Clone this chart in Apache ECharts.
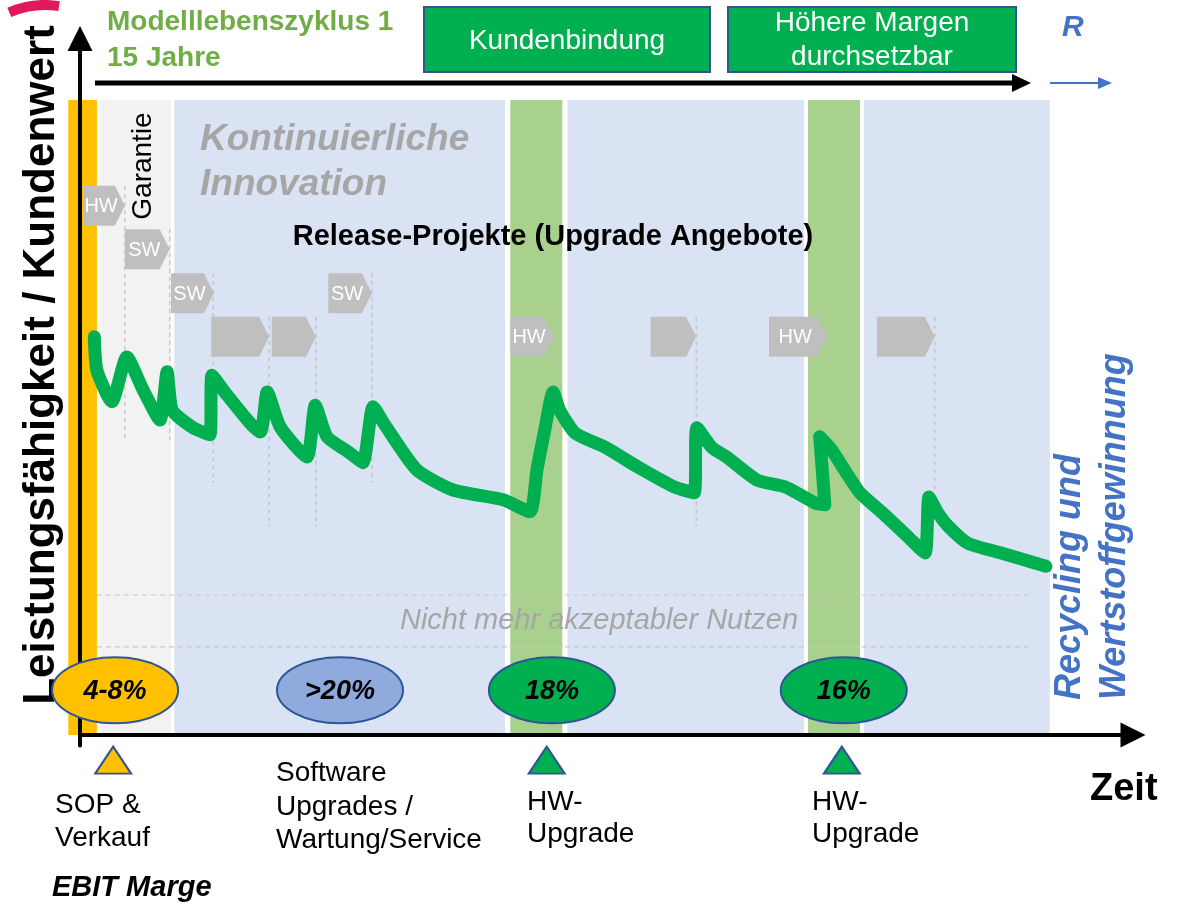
<!DOCTYPE html>
<html>
<head>
<meta charset="utf-8">
<script src="https://cdn.jsdelivr.net/npm/echarts@6/dist/echarts.min.js"></script>
<style>html,body{margin:0;padding:0;background:#fff}#main{width:1191px;height:905px}</style>
</head>
<body>
<div id="main"></div>
<script>
// x: Jahre seit SOP, y: Leistungsfähigkeit / Kundenwert
var bandTop = 90.7;
var orangeBands = [[-0.18, 0.26]];
var grayBands = [[0.31, 1.4]];
var blueBands = [[1.45, 6.54], [7.5, 11.14], [12.06, 14.92]];
var greenBands = [[6.62, 7.42], [11.2, 12.0]];

var curveYears = [0.22, 0.26, 0.49, 0.72, 0.97, 1.23, 1.34, 1.42, 1.74, 2.0, 2.03, 2.26, 2.77, 2.88, 3.08, 3.49, 3.62, 3.80, 4.15, 4.35, 4.51, 4.69, 5.18, 5.74, 6.51, 6.92, 7.03, 7.15, 7.28, 7.38, 7.62, 8.08, 8.58, 9.15, 9.45, 9.49, 9.72, 9.95, 10.42, 10.86, 11.32, 11.46, 11.38, 11.55, 11.78, 12.0, 12.35, 12.74, 13.0, 13.06, 13.2, 13.37, 13.66, 14.17, 14.86];
var curveValues = [56.9, 52.1, 47.6, 54.0, 49.3, 45.0, 51.9, 46.4, 43.9, 42.9, 51.4, 48.6, 43.3, 49.0, 44.0, 39.7, 47.1, 42.6, 40.3, 38.9, 46.9, 44.3, 37.9, 35.0, 33.6, 31.9, 37.9, 43.6, 49.0, 46.4, 43.1, 41.1, 38.3, 35.4, 34.6, 43.9, 41.1, 39.7, 36.4, 35.4, 33.1, 32.9, 42.6, 40.9, 37.6, 34.6, 31.7, 28.3, 26.0, 34.0, 31.7, 29.7, 27.4, 26.0, 24.1];

var releaseStart = [0.05, 0.69, 1.40, 2.02, 2.95, 3.82, 6.62, 8.78, 10.6, 12.26];
var releaseEnd = [0.69, 1.38, 2.06, 2.91, 3.63, 4.49, 7.29, 9.48, 11.5, 13.15];
var releaseLevel = [75.6, 69.4, 63.1, 56.9, 56.9, 63.1, 56.9, 56.9, 56.9, 56.9];
var releaseLabels = ['HW', 'SW', 'SW', '', '', 'SW', 'HW', '', 'HW', ''];

var guideYears = [0.69, 1.38, 2.05, 2.91, 3.63, 4.49, 7.29, 9.48, 11.5, 13.15];
var guideTop = [78.4, 72.3, 66.0, 59.7, 59.7, 66.0, 59.7, 59.7, 59.7, 59.7];
var guideBottom = [42.1, 42.1, 36.0, 29.7, 29.7, 36.0, 29.7, 29.7, 29.7, 35.0];

var limitLevels = [20.0, 12.6];
var limitRange = [0.26, 14.6];

var marginYears = [0.54, 4.0, 7.26, 11.75];
var marginLevel = 6.4;
var marginLabels = ['4-8%', '>20%', '18%', '16%'];
var marginColors = ['#FFC000', '#8FAADC', '#00B050', '#00B050'];

var milestoneYears = [0.51, 7.18, 11.72];
var milestoneLevel = -3.6;
var milestoneColors = ['#FFC000', '#00B050', '#00B050'];

var FONT = "'Liberation Sans', Arial, sans-serif";

function bandSeries(bands, color) {
  return {
    type: 'custom', z: 1, silent: true, clip: false,
    data: bands,
    renderItem: function (params, api) {
      var p0 = api.coord([api.value(0), bandTop]);
      var p1 = api.coord([api.value(1), 0]);
      return {
        type: 'rect',
        shape: {x: p0[0], y: p0[1], width: p1[0] - p0[0], height: p1[1] - p0[1]},
        style: {fill: color}
      };
    }
  };
}

var myChart = echarts.init(document.getElementById('main'));

var option = {
  animation: false,
  grid: {left: 80, top: 38.5, width: 1053, height: 707},
  xAxis: {
    type: 'value', min: 0, max: 16.2, z: 3,
    axisLine: {onZero: true, symbol: ['none', 'triangle'], symbolSize: [25, 25], lineStyle: {color: '#000', width: 4}},
    axisTick: {show: false}, axisLabel: {show: false}, splitLine: {show: false}
  },
  yAxis: {
    type: 'value', min: -1.5, max: 99.5, z: 3,
    axisLine: {show: true, onZero: true, symbol: ['none', 'triangle'], symbolSize: [25, 25], lineStyle: {color: '#000', width: 4}},
    axisTick: {show: false}, axisLabel: {show: false}, splitLine: {show: false}
  },
  series: [
    bandSeries(orangeBands, '#FFC000'),
    bandSeries(grayBands, '#F2F2F2'),
    bandSeries(blueBands, '#DAE3F3'),
    bandSeries(greenBands, '#A9D18E'),
    {
      type: 'custom', z: 2, silent: true,
      data: guideYears.map(function (x, i) { return [x, guideTop[i], guideBottom[i]]; }),
      renderItem: function (params, api) {
        var a = api.coord([api.value(0), api.value(1)]);
        var b = api.coord([api.value(0), api.value(2)]);
        return {type: 'line', shape: {x1: a[0], y1: a[1], x2: b[0], y2: b[1]},
          style: {stroke: '#BFBFBF', lineWidth: 1.2, lineDash: [4, 4]}};
      }
    },
    {
      type: 'custom', z: 2, silent: true,
      data: limitLevels.map(function (v) { return [limitRange[0], v, limitRange[1]]; }),
      renderItem: function (params, api) {
        var a = api.coord([api.value(0), api.value(1)]);
        var b = api.coord([api.value(2), api.value(1)]);
        return {type: 'line', shape: {x1: a[0], y1: a[1], x2: b[0], y2: b[1]},
          style: {stroke: '#C8C8C8', lineWidth: 1.2, lineDash: [5, 4]}};
      }
    },
    {
      type: 'custom', z: 4, silent: true,
      data: releaseStart.map(function (x, i) { return [x, releaseEnd[i], releaseLevel[i]]; }),
      renderItem: function (params, api) {
        var a = api.coord([api.value(0), api.value(2)]);
        var b = api.coord([api.value(1), api.value(2)]);
        var h = 20, n = 10;
        return {
          type: 'group',
          children: [
            {type: 'polygon', shape: {points: [[a[0], a[1] - h], [b[0] - n, a[1] - h], [b[0], a[1]], [b[0] - n, a[1] + h], [a[0], a[1] + h]]},
              style: {fill: '#BFBFBF'}},
            {type: 'text', x: (a[0] + b[0]) / 2 - 3, y: a[1] + 1,
              style: {text: releaseLabels[params.dataIndex], fill: '#fff', font: '20px ' + FONT, align: 'center', verticalAlign: 'middle'}}
          ]
        };
      }
    },
    {
      type: 'line', z: 5, silent: true,
      data: curveYears.map(function (x, i) { return [x, curveValues[i]]; }),
      showSymbol: false, smooth: 0.2,
      lineStyle: {color: '#00B050', width: 13, cap: 'round', join: 'round'}
    },
    {
      type: 'custom', z: 6, silent: true, clip: false,
      data: marginYears.map(function (x) { return [x, marginLevel]; }),
      renderItem: function (params, api) {
        var c = api.coord([api.value(0), api.value(1)]);
        return {
          type: 'group',
          children: [
            {type: 'ellipse', shape: {cx: c[0], cy: c[1], rx: 63, ry: 33},
              style: {fill: marginColors[params.dataIndex], stroke: '#2F5597', lineWidth: 2}},
            {type: 'text', x: c[0], y: c[1] + 1,
              style: {text: marginLabels[params.dataIndex], fill: '#000', font: 'italic bold 27px ' + FONT, align: 'center', verticalAlign: 'middle'}}
          ]
        };
      }
    },
    {
      type: 'scatter', z: 6, silent: true, clip: false,
      symbol: 'triangle', symbolSize: [36, 27],
      data: milestoneYears.map(function (x, i) {
        return {value: [x, milestoneLevel], itemStyle: {color: milestoneColors[i]}};
      }),
      itemStyle: {borderColor: '#2F5597', borderWidth: 2, opacity: 1}
    }
  ],
  graphic: [
    {type: 'arc', shape: {cx: 45, cy: 95, r: 90, startAngle: Math.PI * 1.37, endAngle: Math.PI * 1.55},
      style: {stroke: '#E0195A', lineWidth: 10, fill: null}},
    {type: 'text', x: 107, y: 4, style: {text: 'Modelllebenszyklus 1\n15 Jahre', fill: '#70AD47', font: 'bold 28px ' + FONT, lineHeight: 36}},
    {type: 'rect', shape: {x: 424, y: 7, width: 286, height: 65}, style: {fill: '#00B050', stroke: '#2F5597', lineWidth: 2}},
    {type: 'text', x: 567, y: 41, style: {text: 'Kundenbindung', fill: '#fff', font: '28px ' + FONT, align: 'center', verticalAlign: 'middle'}},
    {type: 'rect', shape: {x: 728, y: 7, width: 288, height: 65}, style: {fill: '#00B050', stroke: '#2F5597', lineWidth: 2}},
    {type: 'text', x: 872, y: 40, style: {text: 'Höhere Margen\ndurchsetzbar', fill: '#fff', font: '28px ' + FONT, align: 'center', verticalAlign: 'middle', lineHeight: 34}},
    {type: 'line', shape: {x1: 95, y1: 83, x2: 1016, y2: 83}, style: {stroke: '#000', lineWidth: 5}},
    {type: 'polygon', shape: {points: [[1012, 74], [1031, 83], [1012, 92]]}, style: {fill: '#000'}},
    {type: 'text', x: 1062, y: 28, style: {text: 'R', fill: '#4472C4', font: 'italic bold 30px ' + FONT, verticalAlign: 'middle'}},
    {type: 'line', shape: {x1: 1050, y1: 83, x2: 1100, y2: 83}, style: {stroke: '#4472C4', lineWidth: 2}},
    {type: 'polygon', shape: {points: [[1098, 77], [1112, 83], [1098, 89]]}, style: {fill: '#4472C4'}},
    {type: 'text', x: 42, y: 365, rotation: Math.PI / 2,
      style: {text: 'Leistungsfähigkeit / Kundenwert', fill: '#000', font: 'bold 44px ' + FONT, align: 'center', verticalAlign: 'middle'}},
    {type: 'text', x: 200, y: 117, z: 10,
      style: {text: 'Kontinuierliche\nInnovation', fill: '#A6A6A6', font: 'italic bold 37px ' + FONT, lineHeight: 45}},
    {type: 'text', x: 143, y: 166, rotation: Math.PI / 2, z: 10,
      style: {text: 'Garantie', fill: '#000', font: '28px ' + FONT, align: 'center', verticalAlign: 'middle'}},
    {type: 'text', x: 553, y: 237, z: 10,
      style: {text: 'Release-Projekte (Upgrade Angebote)', fill: '#000', font: 'bold 29px ' + FONT, align: 'center', verticalAlign: 'middle'}},
    {type: 'text', x: 599, y: 621, z: 10,
      style: {text: 'Nicht mehr akzeptabler Nutzen', fill: '#A6A6A6', font: 'italic 29px ' + FONT, align: 'center', verticalAlign: 'middle'}},
    {type: 'text', x: 1048, y: 700, rotation: Math.PI / 2, z: 10,
      style: {text: 'Recycling und\nWertstoffgewinnung', fill: '#4472C4', font: 'italic bold 36px ' + FONT, align: 'left', verticalAlign: 'top', lineHeight: 45}},
    {type: 'text', x: 55, y: 789, style: {text: 'SOP &\nVerkauf', fill: '#000', font: '28px ' + FONT, lineHeight: 33}},
    {type: 'text', x: 276, y: 757, style: {text: 'Software\nUpgrades /\nWartung/Service', fill: '#000', font: '28px ' + FONT, lineHeight: 33.5}},
    {type: 'text', x: 527, y: 786, style: {text: 'HW-\nUpgrade', fill: '#000', font: '28px ' + FONT, lineHeight: 32}},
    {type: 'text', x: 812, y: 786, style: {text: 'HW-\nUpgrade', fill: '#000', font: '28px ' + FONT, lineHeight: 32}},
    {type: 'text', x: 52, y: 888, style: {text: 'EBIT Marge', fill: '#000', font: 'italic bold 29px ' + FONT, verticalAlign: 'middle'}},
    {type: 'text', x: 1090, y: 790, style: {text: 'Zeit', fill: '#000', font: 'bold 38px ' + FONT, verticalAlign: 'middle'}}
  ]
};

myChart.setOption(option);
</script>
</body>
</html>
